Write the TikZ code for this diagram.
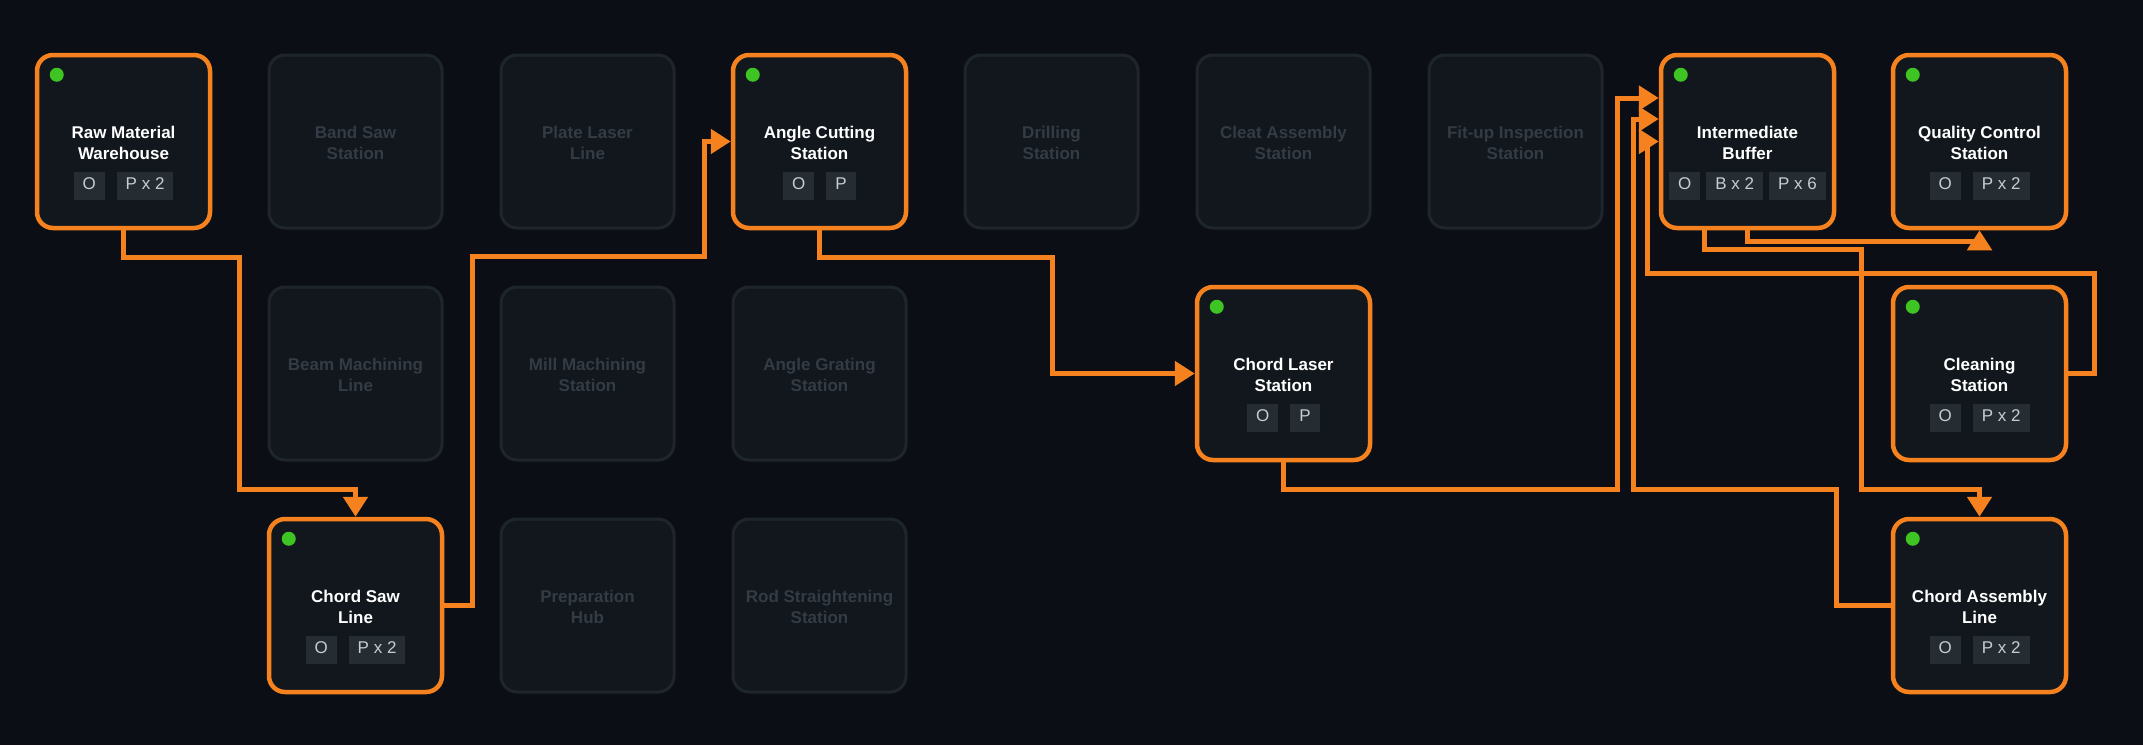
\documentclass[tikz,border=0pt]{standalone}
\usepackage{fontspec}
\setmainfont{Liberation Sans}
\usepackage{xcolor}
\usetikzlibrary{arrows.meta}

\definecolor{bgdark}{HTML}{0B0F15}
\definecolor{boxfill}{HTML}{11171D}
\definecolor{idleline}{HTML}{1E252C}
\definecolor{idletext}{HTML}{333B44}
\definecolor{flowor}{HTML}{F5821F}
\definecolor{chipgray}{HTML}{252D33}
\definecolor{chiptext}{HTML}{C8CDD2}
\definecolor{ledgreen}{HTML}{3EC423}

\newcommand\chip[1]{{\setlength\fboxsep{4pt}\colorbox{chipgray}{\hspace{5pt}\color{chiptext}\strut#1\hspace{5pt}}}}
\newcommand\chipgap{\hspace{12pt}}

\begin{document}
\begin{tikzpicture}[x=1pt,y=-1pt,
    station/.style={draw=flowor,line width=4.5pt,fill=boxfill,rounded corners=16pt,minimum size=173pt},
    idle/.style={draw=idleline,line width=3pt,fill=boxfill,rounded corners=16pt,minimum size=173pt},
    title/.style={font=\fontsize{17}{21}\selectfont\bfseries,align=center,text=white},
    idletitle/.style={title,text=idletext},
    chips/.style={font=\fontsize{17}{20}\selectfont,inner sep=0pt},
    led/.style={circle,fill=ledgreen,minimum size=14pt,inner sep=0pt},
    flow/.style={draw=flowor,line width=5pt,-{Triangle[length=20pt,width=24pt]}},
                        ]
    \fill[bgdark] (0,0) rectangle (2143,745);
    \useasboundingbox (0,0) rectangle (2143,745);

    % idle stations
    \foreach \c/\r/\txt in {1/0/Band Saw\\Station, 2/0/Plate Laser\\Line,
        4/0/Drilling\\Station, 5/0/Cleat Assembly\\Station, 6/0/Fit-up Inspection\\Station,
        1/1/Beam Machining\\Line, 2/1/Mill Machining\\Station, 3/1/Angle Grating\\Station,
        2/2/Preparation\\Hub, 3/2/Rod Straightening\\Station}{
        \node[idle] (idle-\c-\r) at (123.5+232*\c,141.5+232*\r) {};
        \node[idletitle] at ([yshift=-1pt]idle-\c-\r) {\txt};
    }

    % active stations
    \foreach \nm/\c/\r/\txt/\chp in {raw/0/0/Raw Material\\Warehouse/\chip{O}\chipgap\chip{P x 2},
        angle/3/0/Angle Cutting\\Station/\chip{O}\chipgap\chip{P},
        buffer/7/0/Intermediate\\Buffer/\chip{O}\hspace{6pt}\chip{B x 2}\hspace{6pt}\chip{P x 6},
        qc/8/0/Quality Control\\Station/\chip{O}\chipgap\chip{P x 2},
        laser/5/1/Chord Laser\\Station/\chip{O}\chipgap\chip{P},
        clean/8/1/Cleaning\\Station/\chip{O}\chipgap\chip{P x 2},
        saw/1/2/Chord Saw\\Line/\chip{O}\chipgap\chip{P x 2},
        ca/8/2/Chord Assembly\\Line/\chip{O}\chipgap\chip{P x 2}}{
        \node[station] (\nm) at (123.5+232*\c,141.5+232*\r) {};
        \node[led] at ([xshift=22pt,yshift=-22pt]\nm.north west) {};
        \node[title] at ([yshift=-1pt]\nm) {\txt};
        \node[chips] at ([yshift=-44pt]\nm) {\chp};
    }

    % flows
    \draw[flow] (raw.south) -- ++(0,27) -| (239,489) -| (saw.north);
    \draw[flow] (saw.east) -- (472,605.5) |- (704,256) |- (angle.west);
    \draw[flow] (angle.south) |- (1052,257) |- (laser.west);
    \draw[flow] (laser.south) |- (1617,489) |- ([yshift=43.5pt]buffer.west);
    \draw[flow] ([xshift=-43.5pt]buffer.south) |- (1861,249) |- (1979.5,489) -- (ca.north);
    \draw[flow] (buffer.south) -- ++(0,11) -| (qc.south);
    \draw[flow] (clean.east) -| (2094,273) -| (1647,141.5) -- (buffer.west);
    \draw[flow] (ca.west) -| (1836,489) -| (1633,119) -- ([yshift=22.5pt]buffer.west);
\end{tikzpicture}
\end{document}
